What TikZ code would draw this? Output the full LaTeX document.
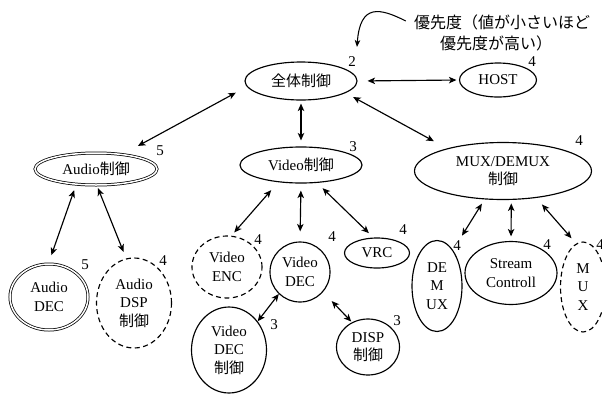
\documentclass[tikz,border=0pt]{standalone}
\usepackage{fontspec}
\setmainfont{Liberation Serif}
\newfontfamily\jp{Noto Sans CJK JP}
\usetikzlibrary{shapes.geometric,arrows.meta}

\begin{document}
\begin{tikzpicture}[x=1pt,y=-1pt,
  every node/.style={font=\fontsize{15}{18.5}\selectfont},
  el/.style={ellipse, draw, line width=1.15pt, inner sep=0pt, align=center},
  dbl/.style={ellipse, draw, double, double distance=1.5pt, line width=0.75pt, inner sep=0pt, align=center},
  dsh/.style={el, dash pattern=on 5pt off 3.5pt},
  num/.style={inner sep=0pt},
  note/.style={inner sep=0pt, font={\jp\fontsize{16}{21}\selectfont}},
  tipstyle/.style={},
  arr/.style={{Stealth[length=7.5pt,width=6.5pt,inset=2pt]}-{Stealth[length=7.5pt,width=6.5pt,inset=2pt]}, line width=1.15pt},
  curv/.style={-{Stealth[length=7pt,width=5.5pt,inset=2pt]}, line width=1.05pt},
]
\useasboundingbox (0,0) rectangle (602,394);

% top level
\node[el, minimum width=112pt, minimum height=38pt] (top) at (301,81) {{\jp 全体制御}};
\node[el, minimum width=77pt, minimum height=34pt] (host) at (498,80) {HOST};

% audio branch
\node[dbl, minimum width=122pt, minimum height=32pt] (audio) at (96,169) {Audio{\jp 制御}};
\node[dbl, minimum width=78pt, minimum height=66pt] (adec) at (49,297) {Audio\\DEC};
\node[dsh, minimum width=75pt, minimum height=90pt] (adsp) at (134,303) {Audio\\DSP\\{\jp 制御}};

% video branch
\node[el, minimum width=122pt, minimum height=36pt] (video) at (301,165) {Video{\jp 制御}};
\node[dsh, minimum width=70pt, minimum height=62pt] (venc) at (227,267) {Video\\ENC};
\node[el, minimum width=60pt, minimum height=60pt] (vdec) at (300,272) {Video\\DEC};
\node[el, minimum width=65pt, minimum height=30pt] (vrc) at (377,253) {VRC};
\node[el, minimum width=75pt, minimum height=86pt] (vdecc) at (229,350) {Video\\DEC\\{\jp 制御}};
\node[el, minimum width=63pt, minimum height=56pt] (disp) at (368,347) {DISP\\{\jp 制御}};

% mux/demux branch
\node[el, minimum width=177pt, minimum height=57pt] (mux) at (503,171) {MUX/DEMUX\\{\jp 制御}};
\node[el, minimum width=50pt, minimum height=91pt] (demux) at (437,286) {DE\\M\\UX};
\node[el, minimum width=92pt, minimum height=63pt] (stream) at (511,273) {Stream\\Controll};
\node[dsh, minimum width=45pt, minimum height=90pt] (muxs) at (583,287) {M\\U\\X};

% priority numbers
\node[num] (p1) at (352,62) {2};
\node[num] (p2) at (532,62) {4};
\node[num] (p3) at (160,151) {5};
\node[num] (p4) at (85,265) {5};
\node[num] (p5) at (163,261) {4};
\node[num] (p6) at (353,147) {3};
\node[num] (p7) at (258,240) {4};
\node[num] (p8) at (332,237) {4};
\node[num] (p9) at (403,230) {4};
\node[num] (p10) at (274,325) {3};
\node[num] (p11) at (397,321) {3};
\node[num] (p12) at (579,141) {4};
\node[num] (p13) at (457,246) {4};
\node[num] (p14) at (547,245) {4};
\node[num] (p15) at (600,245) {4};

% note on the priority numbers
\node[note] (note1) at (502,22) {優先度（値が小さいほど};
\node[note] (note2) at (496,43) {優先度が高い）};
\coordinate (tip) at (357,47);
\draw[curv] ([xshift=-8pt,yshift=1pt]note1.west) .. controls (380,8) and (360,3) .. (tip);

% connectors
\draw[arr, shorten <=12.6pt, shorten >=17.4pt] (top.186) -- (audio.29);
\draw[arr, shorten <=10pt, shorten >=2.5pt] (top.0) -- (host.180);
\draw[arr, shorten <=3pt, shorten >=6pt] (top.270) -- (video.90);
\draw[arr, shorten <=8.4pt, shorten >=15pt] (top.-15) -- (mux.158);
\draw[arr, shorten <=6pt, shorten >=9pt] (audio.218) -- (adec.91);
\draw[arr, shorten <=3pt, shorten >=7pt] (audio.-87) -- (adsp.100);
\draw[arr, shorten <=10.5pt, shorten >=4.3pt] (video.217) -- (venc.82);
\draw[arr, shorten <=7pt, shorten >=10pt] (video.270) -- (vdec.90);
\draw[arr, shorten <=7.6pt, shorten >=6.3pt] (video.-48) -- (vrc.103);
\draw[arr] (vdec.226) -- (vdecc.45);
\draw[arr, shorten <=12.5pt, shorten >=1pt] (vdec.-41) -- (disp.123);
\draw[arr, shorten <=5pt, shorten >=17pt] (mux.237) -- (demux.66);
\draw[arr, shorten <=3.5pt, shorten >=4.5pt] (mux.-74) -- (stream.90);
\draw[arr, shorten <=8.6pt, shorten >=7pt] (mux.-39) -- (muxs.99);
\end{tikzpicture}
\end{document}
